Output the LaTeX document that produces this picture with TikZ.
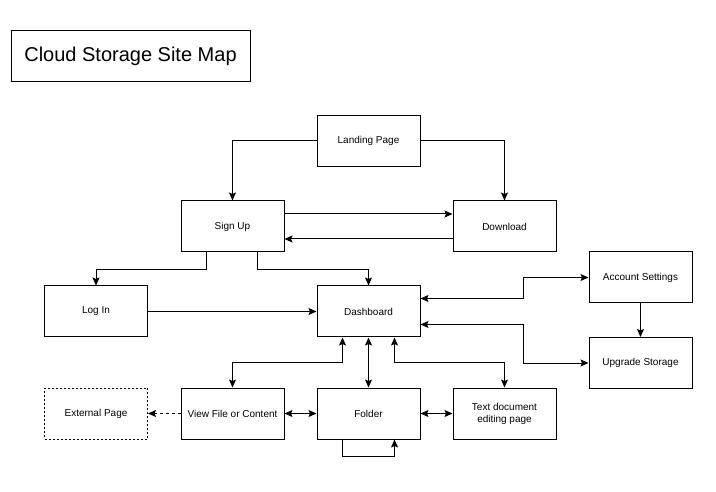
\documentclass[tikz,border=0pt]{standalone}
\usepackage{fontspec}
\setmainfont{Liberation Sans}
\usetikzlibrary{arrows.meta}

\begin{document}
\begin{tikzpicture}[x=1pt, y=-1pt,
  page/.style={draw, line width=1pt, minimum width=103pt, minimum height=51pt,
    inner sep=2pt, align=center, font=\fontsize{10}{12}\selectfont},
  link/.style={line width=1pt, -{Stealth[length=8pt, width=7pt, inset=1.5pt]}},
  both/.style={line width=1pt, {Stealth[length=8pt, width=7pt, inset=1.5pt]}-{Stealth[length=8pt, width=7pt, inset=1.5pt]}}]
\useasboundingbox (0,0) rectangle (716,492);
% title
\node[draw, line width=1pt, minimum width=239pt, minimum height=51pt,
  font=\fontsize{20}{24}\selectfont] (title) at (130.5,56) {Cloud Storage Site Map};
% pages
\node[page] (landing) at (368.5,141) {Landing Page};
\node[page] (signup) at (232.5,226.5) {Sign Up};
\node[page] (download) at (504.5,226.5) {Download};
\node[page] (login) at (96,311.5) {Log In};
\node[page] (dash) at (368.5,311.5) {Dashboard};
\node[page] (account) at (640.5,277.5) {Account Settings};
\node[page] (upgrade) at (640.5,363) {Upgrade Storage};
\node[page, dash pattern=on 2pt off 2pt] (external) at (96,413.5) {External Page};
\node[page] (view) at (232.5,413.5) {View File or Content};
\node[page] (folder) at (368.5,413.5) {Folder};
\node[page] (textdoc) at (504.5,413.5) {Text document\\editing page};
% links
\draw[link] (landing.west) -| (signup.north);
\draw[link] (landing.east) -| (download.north);
\draw[link] ([yshift=12.5pt]signup.east) -- ([yshift=12.5pt]download.west);
\draw[link] ([yshift=-12.5pt]download.west) -- ([yshift=-12.5pt]signup.east);
\draw[link] ([xshift=-26pt]signup.south) -- ++(0,17) -| (login.north);
\draw[link] ([xshift=25pt]signup.south) -- ++(0,17) -| (dash.north);
\draw[link] (login.east) -- (dash.west);
\draw[both] ([yshift=13pt]dash.east) -- ++(102.5,0) |- (account.west);
\draw[both] ([yshift=-13pt]dash.east) -- ++(102.5,0) |- (upgrade.west);
\draw[link] (account.south) -- (upgrade.north);
\draw[both] ([xshift=-26pt]dash.south) -- ++(0,25) -| (view.north);
\draw[both] (dash.south) -- (folder.north);
\draw[both] ([xshift=26pt]dash.south) -- ++(0,25) -| (textdoc.north);
\draw[both] (view.east) -- (folder.west);
\draw[both] (folder.east) -- (textdoc.west);
\draw[link, dash pattern=on 3pt off 3pt] (view.west) -- (external.east);
\draw[link] ([xshift=-26pt]folder.south) -- ++(0,17) -| ([xshift=26pt]folder.south);
\end{tikzpicture}
\end{document}
